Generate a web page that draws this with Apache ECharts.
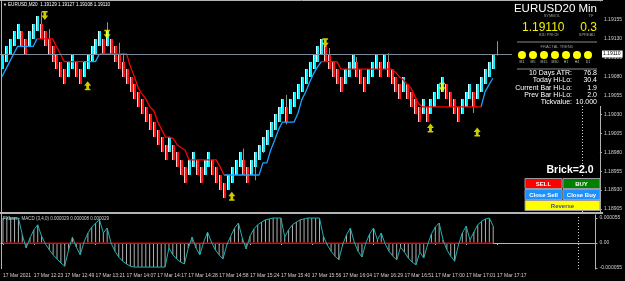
<!DOCTYPE html>
<html><head><meta charset="utf-8">
<script src="https://cdn.jsdelivr.net/npm/echarts@6/dist/echarts.min.js"></script>
<style>html,body{margin:0;padding:0;background:#000;overflow:hidden}#c{width:625px;height:281px}</style>
</head><body><div id="c"></div>
<script>
// ---------- data ----------
const timeLabels = ['17 Mar 2021','17 Mar 12:23','17 Mar 12:49','17 Mar 13:21','17 Mar 14:07','17 Mar 14:17','17 Mar 14:28','17 Mar 14:58','17 Mar 15:24','17 Mar 15:40','17 Mar 15:56','17 Mar 16:04','17 Mar 16:29','17 Mar 16:51','17 Mar 17:00','17 Mar 17:01','17 Mar 17:17'];
const priceTicks = [1.18905,1.18930,1.18955,1.18980,1.19005,1.19030,1.19055,1.19080,1.19105,1.19130,1.19155];
const macdTicks = [-0.000055, 0, 0.000055];
// last entry = current (forming) bar: O=C=last price, only its wick is visible
const brickOpen = [
1.1909,1.1910,1.1911,1.1912,1.1913,1.1914,1.1913,1.1912,1.1913,1.1914,
1.1915,1.1914,1.1913,1.1912,1.1911,1.1910,1.1909,1.1908,1.1909,1.1910,
1.1909,1.1908,1.1909,1.1910,1.1911,1.1912,1.1913,1.1912,1.1913,1.1912,
1.1911,1.1910,1.1909,1.1908,1.1907,1.1906,1.1905,1.1904,1.1903,1.1902,
1.1901,1.1900,1.1899,1.1898,1.1899,1.1898,1.1897,1.1896,1.1895,1.1896,
1.1897,1.1896,1.1895,1.1896,1.1897,1.1896,1.1895,1.1894,1.1893,1.1894,
1.1895,1.1896,1.1897,1.1896,1.1895,1.1896,1.1897,1.1898,1.1899,1.1900,
1.1901,1.1902,1.1903,1.1904,1.1903,1.1904,1.1905,1.1906,1.1907,1.1908,
1.1909,1.1910,1.1911,1.1912,1.1911,1.1910,1.1909,1.1908,1.1907,1.1908,
1.1909,1.1910,1.1909,1.1908,1.1907,1.1908,1.1909,1.1910,1.1909,1.1910,
1.1909,1.1908,1.1907,1.1906,1.1907,1.1906,1.1905,1.1904,1.1903,1.1904,
1.1903,1.1904,1.1905,1.1906,1.1907,1.1906,1.1905,1.1904,1.1903,1.1904,
1.1905,1.1906,1.1905,1.1906,1.1907,1.1908,1.1909,1.1911];
const brickClose = [
1.1911,1.1912,1.1913,1.1914,1.1915,1.1912,1.1911,1.1914,1.1915,1.1916,
1.1913,1.1912,1.1911,1.1910,1.1909,1.1908,1.1907,1.1910,1.1911,1.1908,
1.1907,1.1910,1.1911,1.1912,1.1913,1.1914,1.1911,1.1914,1.1911,1.1910,
1.1909,1.1908,1.1907,1.1906,1.1905,1.1904,1.1903,1.1902,1.1901,1.1900,
1.1899,1.1898,1.1897,1.1900,1.1897,1.1896,1.1895,1.1894,1.1897,1.1898,
1.1895,1.1894,1.1897,1.1898,1.1895,1.1894,1.1893,1.1892,1.1895,1.1896,
1.1897,1.1898,1.1895,1.1894,1.1897,1.1898,1.1899,1.1900,1.1901,1.1902,
1.1903,1.1904,1.1905,1.1902,1.1905,1.1906,1.1907,1.1908,1.1909,1.1910,
1.1911,1.1912,1.1913,1.1910,1.1909,1.1908,1.1907,1.1906,1.1909,1.1910,
1.1911,1.1908,1.1907,1.1906,1.1909,1.1910,1.1911,1.1908,1.1911,1.1908,
1.1907,1.1906,1.1905,1.1908,1.1905,1.1904,1.1903,1.1902,1.1905,1.1902,
1.1905,1.1906,1.1907,1.1908,1.1905,1.1904,1.1903,1.1902,1.1905,1.1906,
1.1907,1.1904,1.1907,1.1908,1.1909,1.1910,1.1911,1.1911];
// [bar index, wick low, wick high]
const wicks = [[10,null,1.19166],[12,null,1.19143],[27,null,1.19152],[30,null,1.19125],[31,null,1.19111],[62,null,1.18985],[65,1.18943,null],[67,1.18979,null],[73,1.19017,1.19056],[84,null,1.19118],[91,null,1.19106],[99,null,1.19111],[121,1.19032,null],[127,1.19108,1.19127]];
const trendUp = [
1.1908,1.1909,1.1910,1.1911,1.1912,1.1912,1.1912,1.1912,1.1912,1.1913,
null,null,null,null,null,null,null,null,null,null,
null,1.1910,1.1910,1.1910,1.1910,1.1911,null,null,null,null,
null,null,null,null,null,null,null,null,null,null,
null,null,null,null,null,null,null,null,null,null,
null,null,null,null,null,null,null,1.1895,1.1895,1.1895,
1.1895,1.1895,1.1895,1.1895,1.1895,1.1895,1.1895,1.18966,1.18966,1.18983,
1.18996,1.1901,1.1902,1.1902,1.1902,1.1902,1.19032,1.1905,1.1906,1.19073,
1.19084,1.19093,1.1910,null,null,null,null,null,null,null,
null,null,null,null,null,null,null,null,null,null,
null,null,null,null,null,null,null,null,null,null,
null,null,null,null,null,null,null,null,null,null,
null,null,null,1.1904,1.1906,1.19069,1.19078];
const trendDn = [
null,null,null,null,null,null,null,null,null,1.1913,
1.1913,1.1913,1.1913,1.1913,1.1912,1.1911,1.1910,1.1910,1.1910,1.1910,
1.1910,1.1910,null,null,null,1.1911,1.1911,1.1911,1.1911,1.1911,
1.1911,1.1911,1.1911,1.19093,1.1908,1.19065,1.19057,1.1905,1.1904,1.19035,
1.1902,1.1901,1.1900,1.1900,1.18998,1.1899,1.18986,1.18983,1.1897,1.1897,
1.1897,1.1897,1.1897,1.1897,1.1897,1.1897,1.18961,1.1895,null,null,
null,null,null,null,null,null,null,null,null,null,
null,null,null,null,null,null,null,null,null,null,
null,null,1.1910,1.1910,1.1910,1.1910,1.1910,1.1909,1.1909,1.1909,
1.1909,1.1909,1.1909,1.1909,1.1909,1.1909,1.1909,1.1909,1.1909,1.1909,
1.1909,1.19086,1.1908,1.19076,1.1907,1.19065,1.19054,1.19044,1.1904,1.1904,
1.1904,1.1904,1.1904,1.1904,1.1904,1.1904,1.1904,1.1904,1.1904,1.1904,
1.1904,1.1904,1.1904,1.1904,null,null,null];
const fractalDown = [[11,1.19161],[27,1.19136],[83,1.19125],[113,1.19066]];
const fractalUp = [[22,1.19068],[59,1.18922],[110,1.19012],[122,1.19007]];
// MACD main, in millionths
const macdMicro = [
55,55,55,55,55,18,-11,11,29,40,
15,-2,-15,-26,-35,-44,-51,-15,13,-9,
-26,2,22,35,44,51,22,33,0,-18,
-31,-40,-46,-51,-53,-53,-53,-53,-53,-53,
-53,-53,-53,-11,-26,-35,-42,-46,-11,13,
-11,-26,2,24,2,-15,-26,-35,-4,15,
33,44,11,-13,15,31,40,46,51,53,
55,55,55,13,29,40,46,51,53,55,
55,55,55,15,-4,-18,-29,-37,-4,18,
33,2,-18,-31,0,20,33,7,22,-2,
-18,-29,-37,-9,-20,-33,-42,-48,-20,-33,
-4,20,35,44,7,-15,-29,-40,-4,22,
37,7,24,40,48,53,55,37];
const lastPrice = 1.19110;
const slotCount = 154;
const futureMarker = 149;

// ---------- chart ----------
const FONT = '"Liberation Sans", Arial, sans-serif';
const cats = Array.from({length: slotCount}, (_, i) => String(i));
const brickData = brickOpen.map((o, i) => {
  const c = brickClose[i];
  return [i, o, c, Math.min(o, c), Math.max(o, c)];
});
wicks.forEach(w => {
  if (w[1] != null) brickData[w[0]][3] = w[1];
  if (w[2] != null) brickData[w[0]][4] = w[2];
});
const macd = macdMicro.map(v => v * 1e-6);
const zeroLine = macdMicro.map(() => 0);

function renderBrick(params, api) {
  const i = api.value(0), o = api.value(1), c = api.value(2), lo = api.value(3), hi = api.value(4);
  const pO = api.coord([i, o]), pC = api.coord([i, c]);
  const pL = api.coord([i, lo]), pH = api.coord([i, hi]);
  const cx = Math.round(pO[0]);
  const top = Math.round(Math.min(pO[1], pC[1]));
  const bot = Math.round(Math.max(pO[1], pC[1]));
  const up = c > o;
  const ch = [];
  if (pH[1] < top - 0.5 || pL[1] > bot + 0.5) {
    ch.push({type: 'line', shape: {x1: cx + 0.5, y1: pH[1], x2: cx + 0.5, y2: pL[1]}, style: {stroke: '#909090', lineWidth: 1}});
  }
  if (bot - top > 0) {
    ch.push({type: 'rect', shape: {x: cx - 1, y: top, width: 3, height: bot - top}, style: {fill: up ? '#00f0ff' : '#ff1010'}});
    ch.push({type: 'rect', shape: {x: cx - 1, y: top, width: 1, height: bot - top}, style: {fill: up ? '#d8ffff' : '#ffc8c8'}});
  }
  return {type: 'group', children: ch};
}

const downArrow = 'path://M1,0H9V2H1Z M3,2H7V6H3Z M0,6H10L5,12Z';
const upArrow = 'path://M5,0L10,6H0Z M3,6H7V10H3Z M1,10H9V12H1Z';

const axisGray = '#b4b4b4';
const txt = (text, x, y, size, color, align, opts) => Object.assign({
  type: 'text', x, y, z: 20,
  style: {text, fill: color, font: size + 'px ' + FONT, textAlign: align || 'left', textVerticalAlign: 'middle'}
}, opts || {});
const txtB = (text, x, y, size, color, align) => ({
  type: 'text', x, y, z: 22,
  style: {text, fill: color, font: 'bold ' + size + 'px ' + FONT, textAlign: align || 'center', textVerticalAlign: 'middle'}
});
const button = (x, y, w, h, fill, label, color) => [
  {type: 'rect', z: 21, shape: {x, y, width: w, height: h}, style: {fill, stroke: '#9a9a9a', lineWidth: 1}},
  txtB(label, x + w / 2, y + h / 2 + 0.5, 6, color)
];

const circleX = [522, 533, 544, 555, 566, 577, 588];
const tfNames = ['M1', 'M5', 'M15', 'M30', 'H1', 'H4', 'D1'];
const infoLabels = ['10 Days ATR:', 'Today Hi-Lo:', 'Current Bar Hi-Lo:', 'Prev Bar Hi-Lo:', 'Tickvalue:'];
const infoValues = ['76.8', '30.4', '1.9', '2.0', '10.000'];

const graphics = [
  {type: 'rect', z: 19, shape: {x: 512, y: 2, width: 90, height: 104}, style: {fill: '#000'}},
  {type: 'line', z: 25, shape: {x1: 0, y1: 0.5, x2: 603, y2: 0.5}, style: {stroke: axisGray, lineWidth: 1}},
  {type: 'line', z: 25, shape: {x1: 1.5, y1: 0, x2: 1.5, y2: 269}, style: {stroke: axisGray, lineWidth: 1}},
  {type: 'rect', z: 25, shape: {x: 0, y: 212, width: 603, height: 2}, style: {fill: axisGray}},
  txt('\u25BC', 3, 5, 4, '#ffffff', 'left'),
  txt('EURUSD,M20  1.19129 1.19127 1.19108 1.19110', 8, 5, 4.6, '#ffffff', 'left'),
  txt('FXbars - MACD (3,4,0) 0.000029 0.000008 0.000029', 3, 219, 4.5, '#d0d0d0', 'left'),
  txt('EURUSD20 Min', 597, 9, 11.5, '#ffffff', 'right'),
  txt('SYMBOL', 552, 16, 4, '#9a9a9a', 'center'),
  txt('TF', 591, 16, 4, '#9a9a9a', 'center'),
  txt('1.19110', 522, 27.5, 12, '#f2f200', 'left'),
  txt('0.3', 597, 27.5, 12, '#f2f200', 'right'),
  txt('BID PRICE', 549, 35, 4, '#9a9a9a', 'center'),
  txt('SPREAD', 587, 35, 4, '#9a9a9a', 'center'),
  {type: 'line', z: 20, shape: {x1: 517, y1: 42, x2: 597, y2: 42}, style: {stroke: '#8a8a8a', lineWidth: 1}},
  txt('FRACTAL TREND', 557, 47, 4, '#9a9a9a', 'center'),
  {type: 'line', z: 20, shape: {x1: 517, y1: 69, x2: 597, y2: 69}, style: {stroke: '#8a8a8a', lineWidth: 1}},
  txtB('Brick=2.0', 570, 170.5, 10.5, '#ffffff'),
  ...button(525, 178.5, 37, 10, '#ff0000', 'SELL', '#ffffff'),
  ...button(563, 178.5, 37, 10, '#008000', 'BUY', '#ffffff'),
  ...button(525, 189.5, 37, 10, '#1e90ff', 'Close Sell', '#ffffff'),
  ...button(563, 189.5, 37, 10, '#1e90ff', 'Close Buy', '#ffffff'),
  ...button(525, 200.5, 75, 10, '#ffff00', 'Reverse', '#4a4a90')
];
circleX.forEach((cx, k) => {
  graphics.push({type: 'circle', z: 20, shape: {cx, cy: 55, r: 4}, style: {fill: '#ffff00'}});
  graphics.push(txt(tfNames[k], cx, 62, 3.5, '#bdbdbd', 'center'));
});
infoLabels.forEach((l, k) => {
  const y = 73 + k * 7.3;
  graphics.push(txt(l, 572, y, 7, '#ffffff', 'right'));
  graphics.push(txt(infoValues[k], 597, y, 7, '#ffffff', 'right'));
});

const chart = echarts.init(document.getElementById('c'), null, {renderer: 'canvas', width: 625, height: 281});
chart.setOption({
  animation: false,
  backgroundColor: '#000',
  grid: [
    {left: 0, top: 2, width: 603, height: 210},
    {left: 0, top: 215, width: 603, height: 54}
  ],
  xAxis: [
    {type: 'category', gridIndex: 0, data: cats, boundaryGap: true, show: false},
    {type: 'category', gridIndex: 1, data: cats, boundaryGap: true,
      axisLine: {show: true, lineStyle: {color: axisGray, width: 1}},
      axisTick: {show: true, length: 2, alignWithLabel: true, interval: (i) => i % 8 === 0 && i / 8 < timeLabels.length, lineStyle: {color: axisGray}},
      axisLabel: {show: true, interval: (i) => i % 8 === 0 && i / 8 < timeLabels.length,
        formatter: (v, i) => timeLabels[Math.round(i / 8)] || '', color: '#d0d0d0', fontSize: 5, fontFamily: FONT, align: 'left', margin: 4},
      splitLine: {show: false}}
  ],
  yAxis: [
    {type: 'value', gridIndex: 0, position: 'right', min: 1.1890103, max: 1.1917881, scale: true,
      axisLine: {show: true, lineStyle: {color: axisGray}},
      axisTick: {show: true, length: 2, customValues: priceTicks, lineStyle: {color: axisGray}},
      axisLabel: {show: true, customValues: priceTicks, formatter: v => v.toFixed(5), color: '#d0d0d0', fontSize: 5, fontFamily: FONT, margin: 4},
      splitLine: {show: false}},
    {type: 'value', gridIndex: 1, position: 'right', min: -0.0000572, max: 0.0000616,
      axisLine: {show: true, lineStyle: {color: axisGray}},
      axisTick: {show: true, length: 2, customValues: macdTicks, lineStyle: {color: axisGray}},
      axisLabel: {show: true, customValues: macdTicks, formatter: v => Math.abs(v) < 1e-9 ? '0.00' : v.toFixed(6), color: '#d0d0d0', fontSize: 5, fontFamily: FONT, margin: 4},
      splitLine: {show: false}}
  ],
  series: [
    {type: 'line', xAxisIndex: 0, yAxisIndex: 0, data: trendUp, showSymbol: false, connectNulls: false,
      lineStyle: {color: '#1aa3ff', width: 1.3}, z: 3,
      markLine: {silent: true, symbol: 'none', animation: false, precision: 6,
        data: [{yAxis: lastPrice}],
        lineStyle: {color: '#7a8a9a', type: 'solid', width: 1},
        label: {show: true, position: 'end', formatter: lastPrice.toFixed(5), backgroundColor: '#ffffff', color: '#000', fontSize: 5, fontFamily: FONT, padding: [1, 2], distance: 1}}},
    {type: 'line', xAxisIndex: 0, yAxisIndex: 0, data: trendDn, showSymbol: false, connectNulls: false,
      lineStyle: {color: '#ff0000', width: 1.3}, z: 3,
      markLine: {silent: true, symbol: 'none', animation: false,
        data: [{xAxis: futureMarker}], label: {show: false},
        lineStyle: {color: '#d0d0d0', type: [1, 2], width: 1}}},
    {type: 'custom', xAxisIndex: 0, yAxisIndex: 0, data: brickData, renderItem: renderBrick,
      encode: {x: 0, y: [1, 2, 3, 4]}, z: 2, clip: true},
    {type: 'scatter', xAxisIndex: 0, yAxisIndex: 0, data: fractalDown, symbol: downArrow, symbolSize: [7, 9],
      itemStyle: {color: '#ffff00'}, z: 5},
    {type: 'scatter', xAxisIndex: 0, yAxisIndex: 0, data: fractalUp, symbol: upArrow, symbolSize: [7, 9],
      itemStyle: {color: '#ffff00'}, z: 5},
    {type: 'bar', xAxisIndex: 1, yAxisIndex: 1, data: macd, barWidth: 1, itemStyle: {color: '#b0b0b0'}, z: 2},
    {type: 'line', xAxisIndex: 1, yAxisIndex: 1, data: zeroLine, showSymbol: false,
      lineStyle: {color: '#8b0000', width: 1.3}, z: 3,
      markLine: {silent: true, symbol: 'none', animation: false,
        data: [{xAxis: futureMarker}], label: {show: false},
        lineStyle: {color: '#d0d0d0', type: [1, 2], width: 1}}},
    {type: 'line', xAxisIndex: 1, yAxisIndex: 1, data: macd, showSymbol: false,
      lineStyle: {color: '#1fb0b0', width: 1}, z: 4}
  ],
  graphic: graphics
});
</script></body></html>
